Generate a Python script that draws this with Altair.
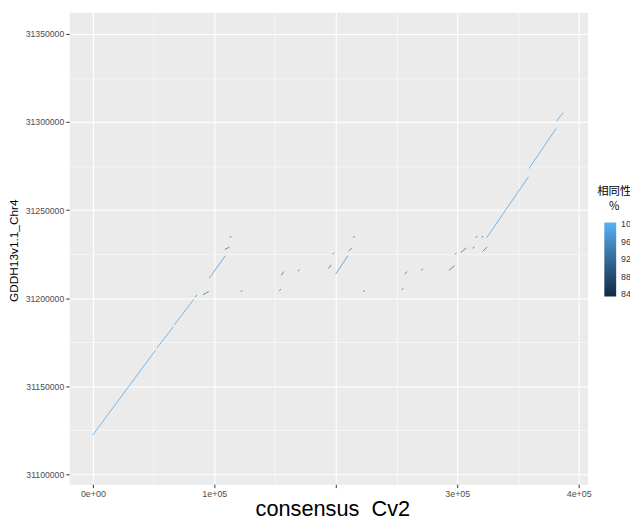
import altair as alt
import pandas as pd

# ---- data (query position vs reference position, identity %) ----
x_start = [0, 52800, 67500, 84500, 91000, 95900, 108900, 113000, 121900,
           153700, 155300, 169100, 194300, 197600, 200000, 210600, 214600, 222800,
           254500, 256900, 270700, 293500, 298400, 303200, 313000, 315400, 320300,
           321100, 324400, 359300, 382100]
y_start = [31122400, 31171700, 31185200, 31200900, 31202000, 31211500, 31227800, 31234500, 31203700,
           31204300, 31213200, 31215500, 31217100, 31225000, 31213800, 31226700, 31234500, 31203700,
           31204800, 31213800, 31216000, 31216000, 31225000, 31226100, 31228400, 31234500, 31234500,
           31226700, 31234500, 31273800, 31300700]
x_end = [51200, 65900, 82900, 85300, 95100, 108900, 112200, 113800, 122700,
         154500, 156900, 169900, 195900, 198400, 209800, 213000, 215400, 223600,
         255300, 258500, 271500, 297600, 299200, 307300, 313800, 316200, 321100,
         324400, 358500, 381300, 387000]
y_end = [31170100, 31183500, 31199200, 31201500, 31203700, 31223900, 31228900, 31235100, 31204300,
         31204900, 31214900, 31216000, 31218800, 31225600, 31223900, 31228400, 31235100, 31204300,
         31205400, 31214900, 31216600, 31218300, 31225600, 31228400, 31229000, 31235100, 31235100,
         31228900, 31268700, 31296200, 31305100]
identity = [99.5, 99.5, 99.5, 92, 93, 98, 94, 91, 91,
            91, 93, 91, 93, 91, 97, 94, 91, 91,
            91, 93, 91, 93, 91, 93, 91, 91, 91,
            94, 99.5, 99.5, 99.5]

x_major = [0, 100000, 200000, 300000, 400000]
x_major_labels = ["0e+00", "1e+05", "", "3e+05", "4e+05"]
x_minor = [50000, 150000, 250000, 350000]
y_major = [31100000, 31150000, 31200000, 31250000, 31300000, 31350000]
y_minor = [31125000, 31175000, 31225000, 31275000, 31325000]
legend_values = [84, 88, 92, 96, 100]
legend_title = "相同性\n%"
x_title = "consensus\u00a0\u00a0Cv2"
y_title = "GDDH13v1.1_Chr4"

df = pd.DataFrame({"x1": x_start, "y1": y_start, "x2": x_end, "y2": y_end, "identity": identity})

x_label_expr = " : ".join(
    f"datum.value === {v} ? '{l}'" for v, l in zip(x_major, x_major_labels)) + " : ''"
y_label_expr = " : ".join(
    f"datum.value === {v} ? '{v}'" for v in y_major) + " : ''"

FONT = "Liberation Sans"
W, H = 525, 478

x_axis = alt.Axis(
    values=sorted(x_major + x_minor), labelExpr=x_label_expr,
    grid=True, gridColor="white",
    gridWidth={"condition": {"test": "datum.value % 100000 === 0", "value": 1.1}, "value": 0.55},
    tickOpacity={"condition": {"test": "datum.value % 100000 === 0", "value": 1}, "value": 0},
    tickColor="#333333", tickSize=3.5, tickWidth=1, domain=False,
    labelFont=FONT, labelFontSize=9, labelColor="#4D4D4D", labelPadding=2,
    labelFlush=False, labelOverlap=False,
    titleFont=FONT, titleFontSize=22, titleFontWeight="normal", titleColor="black",
    titleX=W / 2 + 4, titleY=25, titleAlign="center", titleBaseline="middle",
)
y_axis = alt.Axis(
    values=sorted(y_major + y_minor), labelExpr=y_label_expr,
    grid=True, gridColor="white",
    gridWidth={"condition": {"test": "datum.value % 50000 === 0", "value": 1.1}, "value": 0.55},
    tickOpacity={"condition": {"test": "datum.value % 50000 === 0", "value": 1}, "value": 0},
    tickColor="#333333", tickSize=3.5, tickWidth=1, domain=False,
    labelFont=FONT, labelFontSize=8.8, labelColor="#4D4D4D", labelPadding=2,
    labelFlush=False, labelOverlap=False,
    titleFont=FONT, titleFontSize=12, titleFontWeight="normal", titleColor="black",
    titleAngle=270, titleX=-56, titleY=H / 2 + 2, titleAlign="center", titleBaseline="middle",
)

segments = alt.Chart(df).mark_rule(strokeWidth=0.8, strokeCap="round").encode(
    x=alt.X("x1:Q", title=x_title, axis=x_axis,
            scale=alt.Scale(domain=[-19500, 407300], nice=False, zero=False)),
    x2="x2:Q",
    y=alt.Y("y1:Q", title=y_title, axis=y_axis,
            scale=alt.Scale(domain=[31094400, 31362300], nice=False, zero=False)),
    y2="y2:Q",
    color=alt.Color(
        "identity:Q",
        scale=alt.Scale(domain=[83.5, 100.4], range=["#132B43", "#56B1F7"], interpolate="lab"),
        legend=alt.Legend(
            title=None, orient="none", legendX=542, legendY=213, direction="vertical",
            gradientLength=75, gradientThickness=12, gradientStrokeWidth=0,
            values=legend_values, labelFont=FONT, labelFontSize=9, labelColor="#333333",
            labelOffset=5, labelOverlap=False,
        ),
    ),
)

title_df = pd.DataFrame({"t": [legend_title]})
legend_title_mark = alt.Chart(title_df).mark_text(
    lineBreak="\n", font="Noto Sans CJK SC", fontSize=11.5, align="center",
    baseline="middle", lineHeight=15, color="black",
).encode(text="t:N", x=alt.value(552), y=alt.value(182))

chart = alt.layer(segments, legend_title_mark).properties(
    width=W, height=H,
    autosize=alt.AutoSizeParams(type="none"),
    padding={"left": 62, "top": 1, "right": 43, "bottom": 36},
    background="white",
).configure_view(fill="#EBEBEB", stroke="transparent")

chart.save("out.html", embed_options={"renderer": "svg", "actions": False})
